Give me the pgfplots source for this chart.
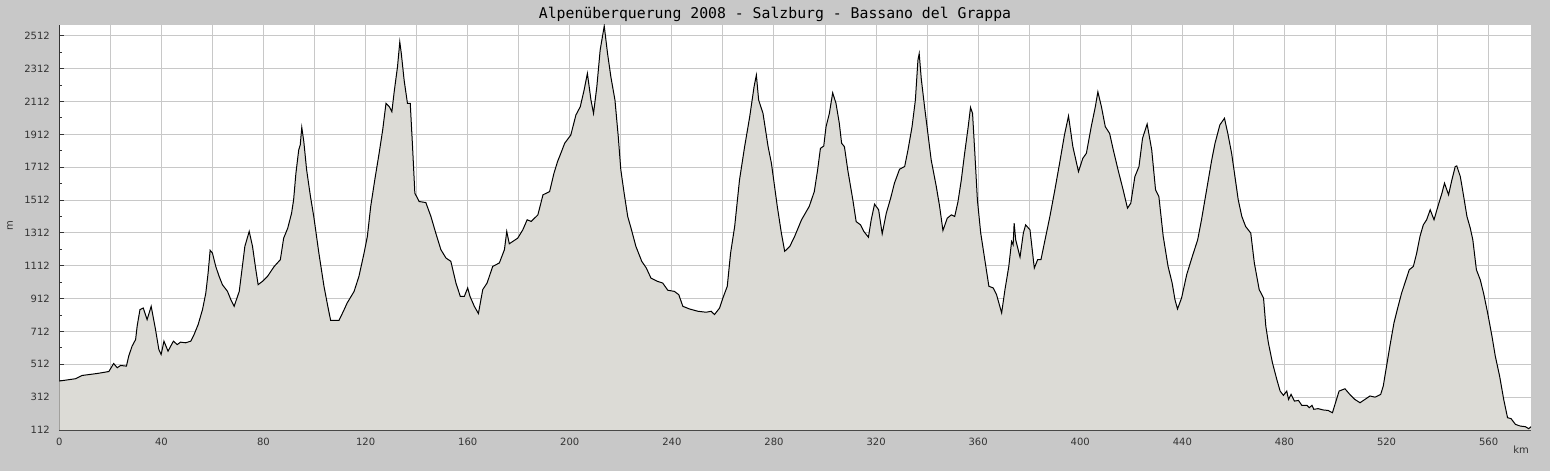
\documentclass[border=0pt]{standalone}
\usepackage{fontspec}
\setmainfont{DejaVu Sans}
\newfontfamily\titlefont{DejaVu Sans Mono}
\usepackage{pgfplots}
\usepackage{pgfplotstable}
\pgfplotsset{compat=1.18}
\definecolor{bgcol}{HTML}{C8C8C8}
\definecolor{bandcol}{HTML}{F3F2F5}
\definecolor{fillcol}{HTML}{DCDBD6}
\definecolor{gridcol}{HTML}{C8C8C8}
\definecolor{axcol}{HTML}{333333}
\definecolor{labcol}{HTML}{333333}
\pgfplotsset{layers/mylayers/.define layer set={axis background,axis grid,pre main,main,axis ticks,axis lines,axis tick labels,axis descriptions,axis foreground}{}}
\pgfplotstableread{
km m
0 410
6.3 424
8.9 444
14.8 456
19.4 468
20.3 491
21.3 517
22.7 491
24 505
26.3 501
27.2 562
28.5 622
29.9 663
30.5 744
31.6 845
32.9 855
34.4 784
36 865
37.7 724
39 602
39.9 572
41 653
42.6 592
44.7 653
46.2 632
47.5 647
49.5 643
51.5 653
52.8 693
54.4 754
56.1 845
57.4 946
58.3 1068
59.1 1206
60 1189
61.3 1108
62.6 1048
63.9 997
65.9 956
67.2 906
68.5 865
70.5 956
71.8 1118
72.7 1230
74.4 1321
75.7 1230
77 1088
77.9 997
79.6 1017
81.6 1048
84.2 1108
86.6 1149
87.9 1280
89.5 1341
91 1432
91.8 1513
92.7 1675
93.8 1817
94.4 1848
95 1955
95.8 1868
96.9 1696
98.4 1534
99.7 1412
101.7 1189
103.7 987
105.2 865
106.3 780
109.6 780
111.3 835
112.8 886
115.5 956
117.4 1048
119.4 1189
120.7 1291
122 1473
123.6 1635
125.3 1797
126.7 1939
128 2101
129.3 2080
130.3 2050
131.2 2171
132.5 2323
133.4 2475
134 2404
135.1 2242
136.4 2101
137.5 2101
138.4 1837
139.3 1554
141 1503
143.6 1497
145.6 1412
147.5 1311
149.5 1210
151.5 1159
153.4 1139
155.4 1007
157.1 926
158.7 926
160 977
160.9 926
162.6 865
164.2 821
165.9 967
167.6 1007
169.8 1108
172.4 1129
174.4 1210
175.3 1321
176.3 1246
179.6 1280
181.6 1331
183.3 1392
184.9 1382
187.5 1422
189.5 1544
192.1 1564
193.8 1675
195.2 1746
196.5 1797
198 1858
200.4 1908
202.4 2030
204.1 2080
205.6 2181
206.9 2283
208.3 2121
209.3 2040
210.6 2202
211.9 2425
213.5 2572
214.8 2404
216.1 2262
217.7 2121
219 1898
220 1696
221.3 1554
222.7 1412
224 1341
225.9 1230
228.2 1139
230 1098
231.8 1037
234.4 1017
236.4 1007
238.4 963
241 956
242.7 936
244.3 865
246.9 849
250.2 835
253.4 829
255.4 835
256.7 815
258.7 855
260 916
261.7 987
263 1189
264.6 1351
266.5 1635
268.5 1837
270.5 2020
272.2 2202
273.1 2273
274 2121
275.7 2040
277.7 1837
279 1736
281.3 1473
282.9 1311
284.2 1200
286.2 1230
288.1 1291
290.8 1392
293.8 1473
295.8 1564
297.1 1696
298.2 1827
299.5 1841
300.4 1959
301.7 2040
303 2165
304.3 2101
305.6 1979
306.5 1858
307.6 1837
308.9 1696
310.9 1513
312.2 1381
313.9 1361
315.2 1321
317 1286
318.1 1392
319.4 1487
321 1453
322.4 1307
324 1432
325.7 1523
327.2 1615
329.2 1700
331.2 1716
332.5 1817
334.1 1959
335.4 2121
336.4 2364
336.9 2404
337.7 2252
339 2080
340.3 1918
341.6 1756
343.6 1594
344.9 1473
346.2 1327
347.9 1402
349.5 1422
350.8 1412
352.1 1503
353.4 1635
354.7 1797
356.1 1959
357 2076
357.8 2040
358.7 1797
359.7 1513
361 1311
362.6 1149
364.2 987
365.9 977
367.2 936
369.2 825
370.5 967
372 1108
373.1 1260
373.7 1240
374.1 1372
374.7 1270
376.4 1165
377.7 1311
378.6 1361
380.3 1331
382 1098
383.3 1149
384.6 1149
386.2 1270
388.1 1412
390 1570
391.9 1736
393.8 1908
395.4 2024
397.1 1837
399.3 1685
401 1766
402.4 1797
404.3 1959
405.9 2080
406.9 2171
408.3 2080
409.8 1959
411.5 1918
412.8 1827
414.8 1696
416.8 1574
418.5 1463
419.8 1493
421.4 1655
423 1716
424.4 1888
426.2 1975
428 1817
429.5 1574
430.8 1534
432.5 1291
434.4 1108
436 1007
437.1 906
438.1 849
439.7 916
441.7 1058
443.9 1169
446 1270
447.5 1392
449.5 1574
451.5 1756
452.8 1858
454.7 1970
456.5 2010
457.8 1918
459.3 1797
460.6 1655
461.9 1513
463.3 1412
464.8 1351
466.8 1311
468.2 1129
470.1 967
471.8 916
472.7 744
473.7 643
475.3 521
477 420
478.3 349
479.6 323
480.9 349
481.6 298
482.6 329
483.9 288
485.5 292
486.8 262
488.8 262
489.7 248
490.8 262
491.5 238
493.2 242
495.2 234
497.1 231
498.8 217
500 278
501.4 349
503.7 363
505.6 329
507.6 298
509.6 278
511.5 298
513.5 319
515.5 312
517.7 329
518.7 379
520 501
521.3 622
522.9 764
524.2 845
525.9 946
527.2 1007
528.9 1088
530.5 1108
531.8 1189
533.1 1291
534.4 1361
535.7 1392
537.1 1453
538.6 1392
540.3 1483
541.7 1554
542.7 1615
544.3 1544
545.6 1635
546.9 1716
547.5 1720
548.9 1655
549.9 1564
551.5 1412
552.8 1341
553.8 1270
555.2 1088
556.7 1027
558 946
559.6 825
561.3 683
562.6 562
564.3 440
565.9 298
567.4 187
568.8 181
570.5 146
572.4 136
574.4 132
575.7 120
576.6 132
}\elev
\begin{document}
\begin{tikzpicture}
\fill[bgcol] (0,0) rectangle (775pt,235.5pt);
\begin{axis}[
  at={(29.65pt,20.5pt)}, anchor=south west,
  scale only axis, width=735.85pt, height=202.5pt,
  xmin=0, xmax=576.6, ymin=112, ymax=2578,
  set layers=mylayers,
  axis background/.style={fill=white},
  axis x line*=bottom, axis y line*=left,
  axis line style={draw=axcol, line width=0.65pt, -},
  xtick={0,20,...,560},
  xticklabels={0,,40,,80,,120,,160,,200,,240,,280,,320,,360,,400,,440,,480,,520,,560},
  minor x tick num=1,
  ytick={112,312,...,2512},
  minor y tick num=1,
  tick align=inside,
  major tick length=2.5pt, minor tick length=1.5pt,
  every tick/.style={draw=axcol, line width=0.5pt},
  xmajorgrids, ymajorgrids,
  major grid style={draw=gridcol, line width=0.5pt},
  ticklabel style={font=\fontsize{5}{6}\selectfont, text=labcol},
  /pgf/number format/assume math mode=true,
  /pgf/number format/1000 sep={},
  yticklabel style={xshift=-1.2pt},
  xticklabel style={yshift=-0.5pt},
]
\begin{pgfonlayer}{axis background}
\fill[bandcol] (axis cs:0,312) rectangle (axis cs:576.6,512);
\fill[bandcol] (axis cs:0,712) rectangle (axis cs:576.6,912);
\fill[bandcol] (axis cs:0,1112) rectangle (axis cs:576.6,1312);
\fill[bandcol] (axis cs:0,1512) rectangle (axis cs:576.6,1712);
\fill[bandcol] (axis cs:0,1912) rectangle (axis cs:576.6,2112);
\fill[bandcol] (axis cs:0,2312) rectangle (axis cs:576.6,2512);
\end{pgfonlayer}
\addplot[draw=none, fill=fillcol] table[x=km, y=m] {\elev} \closedcycle;
\addplot[black, line width=0.5pt] table[x=km, y=m] {\elev};
\end{axis}
\node[font=\titlefont\fontsize{7.4}{9}\selectfont, text=black] at (387.5pt,228.5pt) {Alpenüberquerung 2008 - Salzburg - Bassano del Grappa};
\node[font=\fontsize{5}{6}\selectfont, text=labcol, rotate=90] at (5pt,122.5pt) {m};
\node[font=\fontsize{5}{6}\selectfont, text=labcol] at (760.5pt,10.5pt) {km};
\end{tikzpicture}
\end{document}
